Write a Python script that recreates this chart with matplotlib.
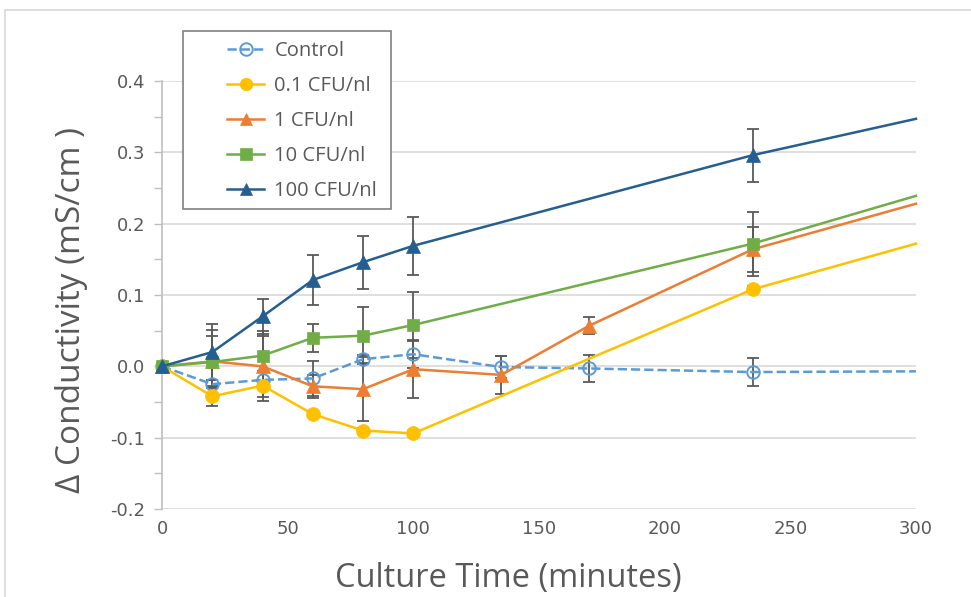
import matplotlib
matplotlib.use("Agg")
import matplotlib.pyplot as plt
from matplotlib.patches import Rectangle
from matplotlib.ticker import MultipleLocator

# ---- data ----
t_control = [0, 20, 40, 60, 80, 100, 135, 170, 235, 300]
control = [0.0, -0.025, -0.019, -0.017, 0.010, 0.017, -0.001, -0.003, -0.008, -0.007]
control_err = [0.0, 0.006, 0.012, 0.025, 0.006, 0.020, 0.016, 0.019, 0.020, None]

t_01 = [0, 20, 40, 60, 80, 100, 235, 300]
cfu01 = [0.0, -0.042, -0.027, -0.067, -0.090, -0.094, 0.108, 0.172]
cfu01_err = [0.0, 0.014, 0.021, 0.004, 0.004, 0.004, 0.004, None]

t_1 = [0, 20, 40, 60, 80, 100, 135, 170, 235, 300]
cfu1 = [0.0, 0.007, 0.0, -0.028, -0.032, -0.004, -0.012, 0.057, 0.164, 0.228]
cfu1_err = [0.0, 0.036, 0.043, 0.016, 0.045, 0.040, 0.027, 0.012, 0.032, None]

t_10 = [0, 20, 40, 60, 80, 100, 235, 300]
cfu10 = [0.0, 0.006, 0.015, 0.040, 0.043, 0.058, 0.172, 0.239]
cfu10_err = [0.0, 0.045, 0.035, 0.020, 0.040, 0.046, 0.045, None]

t_100 = [0, 20, 40, 60, 80, 100, 235, 300]
cfu100 = [0.0, 0.020, 0.070, 0.121, 0.146, 0.169, 0.296, 0.347]
cfu100_err = [0.0, 0.039, 0.024, 0.035, 0.037, 0.041, 0.037, None]

labels = ["Control", "0.1 CFU/nl", "1 CFU/nl", "10 CFU/nl", "100 CFU/nl"]
x_ticks = [0, 50, 100, 150, 200, 250, 300]
y_ticks = [-0.2, -0.1, 0.0, 0.1, 0.2, 0.3, 0.4]
y_ticklabels = ["-0.2", "-0.1", "0.0", "0.1", "0.2", "0.3", "0.4"]

series = [
    (t_control, control, control_err, "#5B9BD5", "o", "--", "none", 9),
    (t_01, cfu01, cfu01_err, "#FFC000", "o", "-", "#FFC000", 10),
    (t_1, cfu1, cfu1_err, "#ED7D31", "^", "-", "#ED7D31", 10),
    (t_10, cfu10, cfu10_err, "#70AD47", "s", "-", "#70AD47", 9),
    (t_100, cfu100, cfu100_err, "#255E91", "^", "-", "#255E91", 10),
]

tick_font = ["Liberation Sans Narrow", "DejaVu Sans"]
label_font = ["Open Sans", "DejaVu Sans"]

W, H = 971, 597
fig = plt.figure(figsize=(W / 100, H / 100), dpi=100)
fig.patches.append(Rectangle((5 / W, -0.1), 1.2, 1 - 10 / H + 0.1,
                             transform=fig.transFigure, fill=False,
                             edgecolor="#D9D9D9", linewidth=1.2))
ax = fig.add_axes([162 / W, 1 - 509 / H, (916 - 162) / W, (509 - 81) / H])

handles = []
for t, y, e, col, mk, ls, mfc, ms in series:
    te = [ti for ti, ei in zip(t, e) if ei]
    ye = [yi for yi, ei in zip(y, e) if ei]
    ee = [ei for ei in e if ei]
    ax.errorbar(te, ye, yerr=ee, fmt="none", ecolor="#595959", elinewidth=1.3,
                capsize=4, capthick=1.3, zorder=2)
for t, y, e, col, mk, ls, mfc, ms in series:
    n = len(t)
    h, = ax.plot(t, y, color=col, linestyle=ls, linewidth=1.8, marker=mk,
                 markersize=ms, markerfacecolor=mfc, markeredgecolor=col,
                 markeredgewidth=1.4 if mfc == "none" else 0.5,
                 markevery=list(range(n - 1)), zorder=3, clip_on=False)
    handles.append(h)

ax.set_xlim(0, 300)
ax.set_ylim(-0.2, 0.4)
ax.set_xticks(x_ticks)
ax.set_yticks(y_ticks)
ax.set_yticklabels(y_ticklabels)
ax.yaxis.set_minor_locator(MultipleLocator(0.05))
ax.grid(axis="y", color="#D9D9D9", linewidth=1.2, zorder=0)
ax.set_axisbelow(True)
for s in ["top", "right", "bottom"]:
    ax.spines[s].set_visible(False)
ax.spines["left"].set_color("#BFBFBF")
ax.spines["left"].set_linewidth(1.2)
ax.tick_params(axis="x", length=0, pad=8, labelsize=13, labelcolor="#595959")
ax.tick_params(axis="y", which="both", length=6, color="#BFBFBF", width=1.0,
               labelsize=13, labelcolor="#595959", pad=6)
for lab in ax.get_xticklabels() + ax.get_yticklabels():
    lab.set_family(tick_font)

ax.set_xlabel("Culture Time (minutes)", fontsize=23.5, color="#595959",
              family=label_font)
ax.set_ylabel("\u0394 Conductivity (mS/cm )", fontsize=24, color="#595959",
              family=label_font)
ax.xaxis.set_label_coords((508 - 162) / 754, (509 - 562) / 428)
ax.yaxis.set_label_coords((88 - 162) / 754, (509 - 310) / 428)

# legend frame drawn explicitly, legend entries placed inside it
fig.patches.append(Rectangle((183 / W, 1 - 209 / H), (391 - 183) / W, (209 - 31) / H,
                             transform=fig.transFigure, facecolor="white",
                             edgecolor="#808080", linewidth=1.2, zorder=5))
leg = fig.legend(handles, labels, loc="upper left",
                 bbox_to_anchor=(227 / W, 1 - 41 / H),
                 bbox_transform=fig.transFigure, frameon=False,
                 prop={"family": label_font, "size": 14.5},
                 labelcolor="#595959", handlelength=1.85, borderpad=0,
                 labelspacing=0.74, handletextpad=0.5, borderaxespad=0)
leg.set_zorder(6)
for lh in leg.legend_handles:
    lh.set_markersize(9)

fig.savefig("out.png", dpi=100)
